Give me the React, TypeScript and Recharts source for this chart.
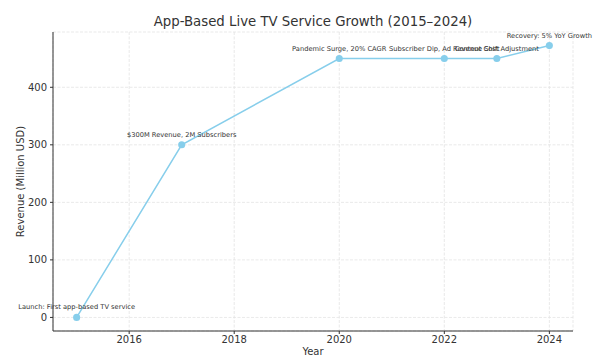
import { LineChart, Line, XAxis, YAxis, CartesianGrid, LabelList } from "recharts";

const years = [2015, 2017, 2020, 2022, 2023, 2024];
const revenue = [0, 300, 450, 450, 450, 472.5];
const events = [
  "Launch: First app-based TV service",
  "$300M Revenue, 2M Subscribers",
  "Pandemic Surge, 20% CAGR",
  "Subscriber Dip, Ad Revenue Shift",
  "Content Cost Adjustment",
  "Recovery: 5% YoY Growth",
];
const xTicks = [2016, 2018, 2020, 2022, 2024];
const yTicks = [0, 100, 200, 300, 400];

const LINE = "#87ceeb";
const FONT = "DejaVu Sans, sans-serif";

const rows = years.map((year, i) => ({ year, revenue: revenue[i], event: events[i] }));

function EventLabel(props: any) {
  const { x, y, value } = props;
  return (
    <text x={x} y={y - 8} textAnchor="middle" fontSize={6.7} fill="#333" fontFamily={FONT}>
      {value}
    </text>
  );
}

export default function App() {
  return (
    <div style={{ position: "absolute", left: 0, top: 0, width: 612, height: 363, background: "#fff" }}>
      <div
        style={{
          position: "absolute",
          top: 14,
          left: 53,
          width: 520,
          textAlign: "center",
          fontFamily: FONT,
          fontSize: 13.3,
          color: "#333",
        }}
      >
        App-Based Live TV Service Growth (2015–2024)
      </div>
      <LineChart width={612} height={363} data={rows} margin={{ top: 32, right: 39, left: 0, bottom: 0 }}>
        <CartesianGrid strokeDasharray="3 1.5" stroke="#e3e3e3" strokeWidth={0.8} />
        <XAxis
          dataKey="year"
          type="number"
          domain={[2014.55, 2024.45]}
          ticks={xTicks}
          height={32}
          tickSize={3}
          tickMargin={2}
          stroke="#333"
          tick={{ fontSize: 10, fill: "#333", fontFamily: FONT }}
          label={{ value: "Year", position: "insideBottom", offset: 8, fontSize: 10, fill: "#333", fontFamily: FONT }}
        />
        <YAxis
          type="number"
          domain={[-23.6, 496.1]}
          ticks={yTicks}
          width={53}
          tickSize={3}
          tickMargin={3}
          stroke="#333"
          tick={{ fontSize: 10, fill: "#333", fontFamily: FONT }}
          label={{
            value: "Revenue (Million USD)",
            angle: -90,
            position: "insideLeft",
            offset: 20,
            style: { textAnchor: "middle" },
            fontSize: 10,
            fill: "#333",
            fontFamily: FONT,
          }}
        />
        <Line
          type="linear"
          dataKey="revenue"
          stroke={LINE}
          strokeWidth={1.5}
          dot={{ r: 2.8, fill: LINE, stroke: LINE }}
          isAnimationActive={false}
        >
          <LabelList dataKey="event" content={<EventLabel />} />
        </Line>
      </LineChart>
    </div>
  );
}
